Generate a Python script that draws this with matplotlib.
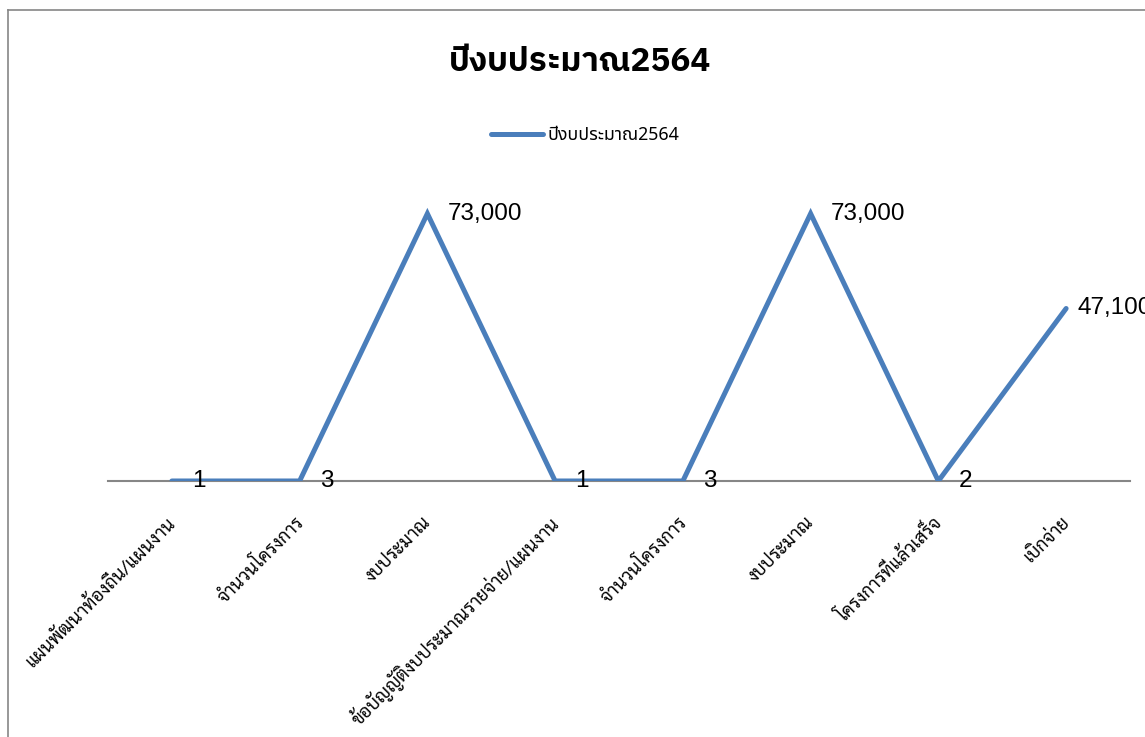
import matplotlib
matplotlib.use("Agg")
import matplotlib.pyplot as plt
from matplotlib.lines import Line2D

# data
categories = [
    "แผนพัฒนาท้องถิ่น/แผนงาน",
    "จำนวนโครงการ",
    "งบประมาณ",
    "ข้อบัญญัติงบประมาณรายจ่าย/แผนงาน",
    "จำนวนโครงการ",
    "งบประมาณ",
    "โครงการที่แล้วเสร็จ",
    "เบิกจ่าย",
]
values = [1, 3, 73000, 1, 3, 73000, 2, 47100]
series_name = "ปีงบประมาณ2564"
title = "ปีงบประมาณ2564"

W, H = 1145, 737
LINE_BLUE = "#4a7ebb"
AXIS_GRAY = "#868686"
TITLE_FONT = ["IBM Plex Sans Thai", "Noto Sans Thai", "DejaVu Sans"]
LEGEND_FONT = ["Noto Sans Thai", "DejaVu Sans"]
LABEL_FONT = ["Sarabun", "DejaVu Sans"]
NUM_FONT = ["Liberation Sans", "DejaVu Sans"]

fig = plt.figure(figsize=(W / 100, H / 100), dpi=100)

# chart area border (top and left edges visible, rest cut off)
fig.add_artist(Line2D([8 / W, 8 / W], [0, 1 - 10 / H], color=AXIS_GRAY, lw=1.2,
                      transform=fig.transFigure))
fig.add_artist(Line2D([8 / W, 1], [1 - 10 / H, 1 - 10 / H], color=AXIS_GRAY, lw=1.2,
                      transform=fig.transFigure))

# plot area: x 108..1130 px, y 188..481 px
ax = fig.add_axes([108 / W, (H - 481) / H, 1022 / W, 293 / H])
xs = list(range(len(values)))
line, = ax.plot(xs, values, color=LINE_BLUE, lw=3.6, solid_capstyle="round",
                solid_joinstyle="miter", label=series_name, zorder=3)
ax.set_xlim(-0.5, len(values) - 0.5)
ax.set_ylim(0, 80000)

for s in ["top", "right", "left"]:
    ax.spines[s].set_visible(False)
ax.spines["bottom"].set_color(AXIS_GRAY)
ax.spines["bottom"].set_linewidth(1.5)
ax.spines["bottom"].set_zorder(2)
ax.set_yticks([])
ax.set_xticks([])

# data labels to the right of each point (last one squeezed in like Excel does)
for x, v in zip(xs, values):
    dx = 11 if x == xs[-1] else 20
    ax.annotate(f"{v:,}", xy=(x, v), xytext=(dx, 0), textcoords="offset pixels",
                ha="left", va="center", fontsize=17.5, family=NUM_FONT,
                annotation_clip=False, clip_on=False)

# category labels rotated 45 degrees, text ends under the category centre
for x, lab in zip(xs, categories):
    ax.annotate(lab, xy=(x, 0), xycoords=("data", "axes fraction"),
                xytext=(1, -39), textcoords="offset pixels",
                ha="right", va="center", rotation=45, rotation_mode="anchor",
                fontsize=13, family=LABEL_FONT, annotation_clip=False)

fig.text(580 / W, 1 - 62 / H, title, ha="center", va="center",
         fontsize=24, fontweight="bold", family=TITLE_FONT)

leg = fig.legend(handles=[line], loc="center", bbox_to_anchor=(585 / W, 1 - 135 / H),
                 frameon=False, handlelength=2.9, handletextpad=0.25,
                 prop={"family": LEGEND_FONT, "size": 12.8})

fig.savefig("out.png", dpi=100)
